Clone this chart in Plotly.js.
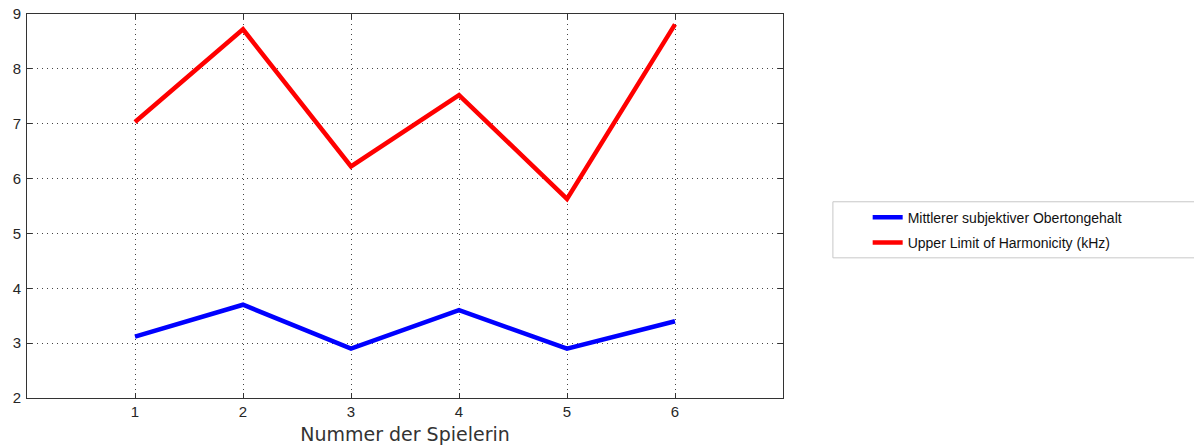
<!DOCTYPE html>
<html>
<head>
<meta charset="utf-8">
<script src="https://cdn.plot.ly/plotly-3.0.1.min.js"></script>
<style>html,body{margin:0;padding:0;background:#fff;}#chart{width:1194px;height:448px;}</style>
</head>
<body>
<div id="chart"></div>
<script>
const players = [1, 2, 3, 4, 5, 6];
const subjektiv = [3.12, 3.70, 2.90, 3.60, 2.90, 3.40];
const upperLimit = [7.03, 8.72, 6.22, 7.52, 5.63, 8.81];
const seriesNames = ["Mittlerer subjektiver Obertongehalt", "Upper Limit of Harmonicity (kHz)"];
const xTicks = [1, 2, 3, 4, 5, 6];
const yTicks = [2, 3, 4, 5, 6, 7, 8, 9];
const xTitle = "Nummer der Spielerin";

const traces = [
  {x: players, y: subjektiv, type: "scatter", mode: "lines", name: seriesNames[0], legendgroup: "a",
   line: {color: "#0000ff", width: 4.5}},
  {x: players, y: upperLimit, type: "scatter", mode: "lines", name: seriesNames[1], legendgroup: "b",
   line: {color: "#ff0000", width: 4.5}}
];

const axisCommon = {
  showline: true, linecolor: "#333", linewidth: 1, mirror: "ticks",
  ticks: "inside", ticklen: 5, tickcolor: "#333", tickwidth: 1,
  showgrid: true, gridcolor: "#444", gridwidth: 1, griddash: "1px,4px",
  zeroline: false, tickfont: {family: "Liberation Sans, Arial, sans-serif", size: 15, color: "#262626"}
};

const layout = {
  width: 1194, height: 448,
  margin: {l: 27, r: 411, t: 14, b: 50},
  paper_bgcolor: "#fff", plot_bgcolor: "#fff",
  showlegend: true,
  legend: {x: 1.112, y: 0.437, xanchor: "left", yanchor: "middle",
    font: {family: "Liberation Sans, Arial, sans-serif", size: 14, color: "#111"},
    bgcolor: "rgba(0,0,0,0)", borderwidth: 0, tracegroupgap: 4},
  xaxis: Object.assign({}, axisCommon, {range: [0, 7], tickvals: xTicks,
    title: {text: xTitle, font: {family: "DejaVu Sans, sans-serif", size: 19, color: "#333"}, standoff: 8}}),
  yaxis: Object.assign({}, axisCommon, {range: [2, 9], tickvals: yTicks, ticklabelstandoff: 2}),
  shapes: [{type: "rect", xref: "paper", yref: "paper", x0: 1.066, x1: 1.56, y0: 0.365, y1: 0.511,
    line: {color: "#c8c8c8", width: 1}, fillcolor: "rgba(0,0,0,0)"}]
};

Plotly.newPlot("chart", traces, layout, {displayModeBar: false, staticPlot: true});
</script>
</body>
</html>
